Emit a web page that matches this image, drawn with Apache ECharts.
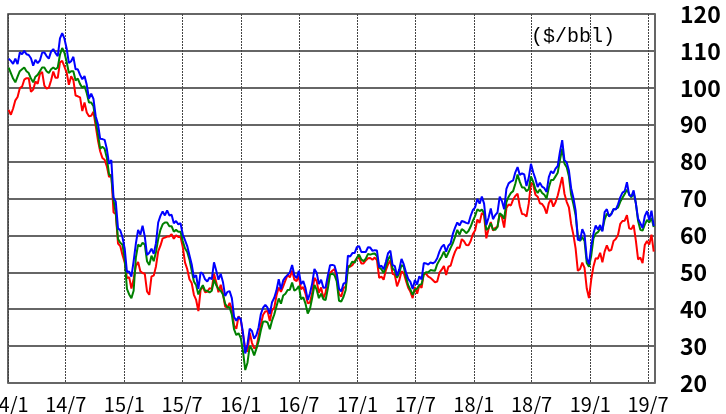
<!DOCTYPE html>
<html>
<head>
<meta charset="utf-8">
<script src="https://cdn.jsdelivr.net/npm/echarts@6/dist/echarts.min.js"></script>
<style>
  html, body { margin: 0; padding: 0; background: #fff; }
  #chart { width: 726px; height: 414px; }
</style>
</head>
<body>
<div id="chart"></div>
<script>
// weekly readings (fridays), first one 2014-01-03
const firstWeek = '2014-01-03'

const brent = [
  107.9, 107.3, 106.5, 107.9, 106.4, 109.6, 109.1, 110.0, 109.1, 108.9, 108.0, 106.0, 107.6,
  106.7, 107.4, 109.5, 109.6, 108.6, 107.9, 109.8, 110.5, 109.4, 108.6, 113.4, 114.8, 113.3,
  110.6, 106.7, 107.2, 108.4, 105.0, 105.0, 103.5, 102.3, 103.2, 100.8, 97.1, 98.4, 97.0,
  92.3, 90.2, 86.2, 86.1, 85.9, 83.4, 79.4, 80.4, 70.2, 69.1, 61.9, 61.4, 59.5,
  // 2015
  56.4, 50.1, 50.2, 48.8, 53.0, 57.8, 61.5, 60.2, 62.6, 59.7, 54.7, 55.3, 56.4,
  55.0, 57.9, 63.5, 65.3, 66.5, 65.4, 66.8, 65.4, 65.6, 63.3, 63.9, 63.0, 63.3,
  60.3, 58.7, 57.1, 54.6, 52.2, 48.6, 49.2, 45.5, 50.0, 49.6, 48.1, 47.5, 48.6,
  48.1, 52.7, 50.5, 48.0, 49.6, 47.4, 43.6, 44.7, 44.9, 43.0, 37.9, 36.9, 37.9,
  // 2016
  37.3, 33.6, 28.0, 30.5, 34.7, 34.1, 32.0, 33.0, 35.1, 38.7, 40.4, 41.2, 40.4,
  38.7, 41.9, 43.1, 45.1, 48.1, 45.4, 47.8, 48.7, 49.3, 50.0, 52.0, 49.2, 48.4,
  50.4, 46.8, 47.6, 45.7, 42.5, 44.3, 47.0, 50.9, 49.9, 46.8, 48.0, 45.8, 45.9, 49.1,
  51.9, 52.0, 51.8, 49.7, 45.6, 44.8, 46.9, 47.2, 54.5, 54.3, 55.2, 55.2, 56.8,
  // 2017
  57.1, 55.5, 55.5, 55.5, 56.8, 56.7, 55.8, 56.0, 55.9, 51.4, 51.8, 50.8, 52.8,
  55.2, 55.9, 52.0, 51.7, 49.1, 50.8, 53.6, 52.2, 50.0, 48.2, 47.4, 45.5, 47.9,
  46.7, 48.9, 48.1, 52.5, 52.4, 52.1, 52.7, 52.4, 52.8, 53.8, 55.6, 56.9, 57.5,
  55.6, 57.2, 57.8, 60.4, 62.1, 63.5, 62.7, 63.9, 63.7, 63.4, 63.2, 65.3, 66.9,
  // 2018
  67.6, 69.9, 68.6, 70.5, 68.6, 62.8, 64.8, 67.3, 64.4, 65.5, 66.2, 70.5, 69.3,
  67.1, 72.6, 74.1, 74.6, 74.9, 77.1, 78.5, 76.4, 76.8, 76.5, 73.4, 75.6, 79.4,
  77.1, 75.3, 73.1, 74.3, 73.2, 72.8, 71.8, 75.8, 77.4, 76.8, 78.1, 78.8, 82.7,
  85.8, 80.4, 79.8, 77.6, 72.8, 70.2, 66.8, 58.8, 58.7, 61.7, 60.3, 53.8, 52.2,
  // 2019
  57.1, 60.5, 62.7, 61.6, 62.8, 61.1, 66.3, 67.1, 65.1, 65.7, 67.2, 67.0, 68.4,
  70.3, 71.6, 72.0, 74.4, 70.9, 70.6, 72.2, 68.7, 64.5, 63.3, 62.0, 65.2, 66.6,
  64.2, 66.7, 62.5
]

const dubai = [
  105.5, 104.0, 102.5, 101.5, 103.0, 104.5, 105.0, 105.5, 104.5, 104.0, 102.5, 101.5, 103.0,
  103.5, 104.5, 105.5, 105.5, 104.5, 104.0, 105.0, 105.5, 105.0, 105.5, 109.0, 110.8, 109.5,
  107.0, 104.0, 104.5, 104.5, 102.0, 102.5, 101.0, 100.0, 100.5, 98.5, 96.0, 96.0, 95.0,
  91.0, 87.5, 83.5, 84.0, 83.5, 81.0, 76.5, 76.0, 69.5, 66.0, 59.0, 58.0, 57.5,
  // 2015
  53.5, 45.5, 44.0, 43.0, 45.0, 54.0, 57.5, 57.0, 58.0, 57.5, 53.0, 52.0, 54.5,
  53.0, 55.5, 59.0, 61.5, 63.0, 63.5, 63.5, 62.5, 62.5, 61.0, 61.5, 61.0, 61.0,
  58.5, 56.5, 55.5, 53.5, 50.5, 47.5, 46.5, 44.0, 45.5, 46.5, 45.0, 45.0, 44.5,
  45.0, 48.0, 46.5, 45.5, 45.0, 44.0, 41.5, 40.5, 40.5, 38.5, 34.5, 33.0, 33.5,
  // 2016
  32.2, 28.6, 23.5, 25.5, 30.0, 29.2, 27.5, 29.3, 31.4, 34.3, 36.6, 36.7, 36.4,
  34.6, 36.9, 38.6, 40.8, 42.9, 41.5, 43.7, 44.2, 45.2, 45.3, 47.2, 45.0, 45.4,
  46.3, 42.7, 43.2, 41.5, 38.8, 40.1, 43.1, 46.6, 45.3, 43.0, 44.2, 42.7, 42.5, 45.6,
  49.4, 49.6, 49.2, 47.5, 42.3, 42.1, 43.3, 45.2, 51.1, 51.9, 52.9, 52.6, 53.9,
  // 2017
  54.8, 53.5, 53.0, 53.7, 55.0, 54.8, 55.0, 55.1, 54.4, 51.3, 50.8, 49.8, 51.5,
  53.5, 54.5, 51.0, 50.5, 48.5, 49.8, 52.0, 51.5, 48.7, 46.5, 45.3, 43.9, 45.3,
  45.6, 46.6, 46.8, 49.5, 50.0, 50.0, 50.6, 50.5, 50.4, 52.2, 53.3, 54.3, 55.6,
  54.0, 55.3, 56.6, 57.9, 59.6, 61.5, 60.2, 61.7, 61.3, 60.6, 61.2, 62.4, 64.0,
  // 2018
  65.3, 67.1, 66.6, 67.0, 66.1, 61.5, 62.0, 63.3, 61.6, 61.5, 62.3, 66.0, 65.5,
  64.5, 69.0, 70.5, 71.5, 72.0, 74.0, 76.5, 74.5, 73.0, 73.0, 72.0, 72.5, 76.0,
  74.5, 72.5, 71.5, 72.5, 71.5, 71.0, 70.0, 73.0, 75.0, 75.0, 76.0, 77.0, 80.5,
  83.5, 79.5, 78.5, 76.0, 71.0, 68.5, 65.5, 60.0, 58.5, 59.5, 58.5, 52.5, 51.5,
  // 2019
  54.5, 59.2, 60.5, 60.9, 61.8, 61.4, 64.3, 65.9, 65.3, 65.9, 67.0, 67.2, 67.5,
  69.1, 70.2, 71.2, 72.4, 71.2, 70.3, 71.6, 68.7, 63.9, 61.5, 61.3, 62.9, 64.2,
  63.5, 64.7, 62.3
]

const wti = [
  94.0, 92.7, 94.4, 96.6, 97.5, 99.9, 100.3, 102.2, 102.6, 102.6, 98.9, 99.5, 101.7,
  101.1, 103.7, 104.3, 100.6, 99.8, 100.0, 102.0, 104.4, 102.7, 102.7, 106.9, 107.3, 105.7,
  104.1, 100.8, 103.1, 102.1, 97.9, 97.7, 97.4, 93.7, 96.0, 93.3, 92.3, 92.4, 93.5,
  89.7, 85.8, 82.8, 81.0, 80.5, 78.7, 75.8, 76.5, 66.2, 65.8, 57.8, 57.1, 54.7,
  // 2015
  52.7, 48.4, 48.7, 45.6, 48.2, 51.7, 52.8, 50.3, 49.8, 49.6, 44.8, 43.9, 48.9,
  49.1, 51.6, 55.7, 57.2, 59.2, 59.4, 59.7, 59.7, 60.3, 59.1, 60.0, 59.6, 59.6,
  56.9, 52.7, 50.9, 48.1, 47.1, 43.9, 42.5, 39.5, 45.2, 46.1, 44.6, 44.7, 45.7,
  45.5, 49.6, 47.3, 44.6, 46.6, 44.3, 40.7, 40.4, 41.7, 40.0, 35.6, 34.7, 38.1,
  // 2016
  37.0, 33.2, 29.4, 28.5, 33.6, 30.9, 29.4, 29.6, 32.8, 35.9, 38.5, 39.4, 39.5,
  36.8, 39.7, 40.4, 43.7, 45.9, 44.7, 46.2, 47.8, 49.3, 48.6, 50.5, 48.0, 47.6,
  49.0, 45.4, 46.0, 44.2, 41.6, 41.8, 44.5, 48.5, 47.6, 44.4, 45.9, 43.0, 44.5, 48.2,
  49.8, 50.4, 50.9, 48.7, 44.1, 43.4, 45.7, 46.1, 51.7, 51.5, 51.9, 53.0, 53.7,
  // 2017
  54.0, 52.4, 52.4, 53.2, 53.8, 53.9, 53.4, 54.0, 53.3, 48.5, 48.8, 48.0, 50.6,
  52.2, 53.2, 49.6, 49.3, 46.2, 47.8, 50.3, 49.8, 47.7, 45.8, 44.7, 43.0, 46.0,
  44.2, 46.5, 45.8, 49.7, 49.6, 48.8, 48.5, 47.9, 47.3, 47.5, 49.9, 50.7, 51.7,
  49.3, 51.5, 51.8, 53.9, 55.6, 56.7, 56.6, 59.0, 58.4, 57.4, 57.3, 58.5, 60.4,
  // 2018
  61.4, 64.3, 63.4, 66.1, 65.5, 59.2, 61.7, 63.6, 61.3, 62.0, 62.3, 65.9, 64.9,
  62.1, 67.4, 68.4, 68.1, 69.7, 70.7, 71.3, 67.9, 65.8, 65.7, 65.1, 68.6, 74.2,
  73.8, 71.0, 70.5, 68.7, 68.5, 67.6, 65.9, 68.7, 69.8, 67.8, 69.0, 70.8, 73.3,
  75.8, 71.3, 69.1, 67.6, 63.1, 60.2, 56.5, 50.4, 50.9, 52.6, 51.2, 45.6, 43.0,
  // 2019
  48.0, 51.6, 53.8, 53.7, 55.3, 52.7, 55.6, 57.3, 55.8, 56.1, 58.5, 59.0, 60.1,
  63.1, 63.9, 64.0, 65.5, 61.9, 61.7, 62.8, 58.6, 53.5, 54.0, 52.5, 57.4, 58.5,
  57.5, 60.2, 55.6
]

const halfYears = ['2014-01-01', '2014-07-01', '2015-01-01', '2015-07-01', '2016-01-01', '2016-07-01',
  '2017-01-01', '2017-07-01', '2018-01-01', '2018-07-01', '2019-01-01', '2019-07-01']
const halfYearLabels = ['14/1', '14/7', '15/1', '15/7', '16/1', '16/7', '17/1', '17/7', '18/1', '18/7', '19/1', '19/7']
const lastDay = '2019-07-23'

const DAY = 24 * 3600 * 1000
const toTime = s => echarts.time.parse(s).getTime()
const t0 = toTime(firstWeek)
const pairs = arr => arr.map((v, i) => [t0 + i * 7 * DAY, v])
const tickTimes = halfYears.map(toTime)

const myChart = echarts.init(document.getElementById('chart'))
myChart.setOption({
  animation: false,
  backgroundColor: '#fff',
  grid: {
    left: 8, top: 14, right: 71, bottom: 31,
    outerBoundsMode: 'none',
    show: true, borderColor: '#333', borderWidth: 1.5
  },
  xAxis: {
    type: 'value',
    min: tickTimes[0],
    max: toTime(lastDay),
    axisLine: { show: false },
    axisTick: { show: false, customValues: tickTimes },
    axisLabel: {
      customValues: tickTimes,
      formatter: v => halfYearLabels[tickTimes.indexOf(v)] || '',
      fontFamily: '"Noto Sans CJK JP", sans-serif',
      fontSize: 20, color: '#000', margin: 11
    },
    splitLine: { show: true, lineStyle: { color: '#444', width: 1, type: [2, 1] } }
  },
  yAxis: {
    type: 'value',
    position: 'right',
    min: 20, max: 120, interval: 10,
    axisLine: { show: false },
    axisTick: { show: false },
    axisLabel: {
      fontFamily: '"Noto Sans CJK JP", sans-serif',
      fontSize: 23, fontWeight: 'bold', color: '#000', margin: 25
    },
    splitLine: { lineStyle: { color: '#666', width: 2 } }
  },
  graphic: [{
    type: 'group', left: 520, top: 15, z: 100,
    children: [
      { type: 'rect', shape: { x: 0, y: 0, width: 103, height: 42 }, style: { fill: '#fff' } },
      {
        type: 'text', x: 53, y: 22,
        style: {
          text: '($/bbl)', font: '20px "Liberation Mono", monospace',
          fill: '#000', align: 'center', verticalAlign: 'middle'
        }
      }
    ]
  }],
  series: [
    { name: 'WTI', type: 'line', data: pairs(wti), showSymbol: false, lineStyle: { color: '#ff0000', width: 2 } },
    { name: 'Dubai', type: 'line', data: pairs(dubai), showSymbol: false, lineStyle: { color: '#008000', width: 2 } },
    { name: 'Brent', type: 'line', data: pairs(brent), showSymbol: false, lineStyle: { color: '#0000ff', width: 2 } }
  ]
})
</script>
</body>
</html>
